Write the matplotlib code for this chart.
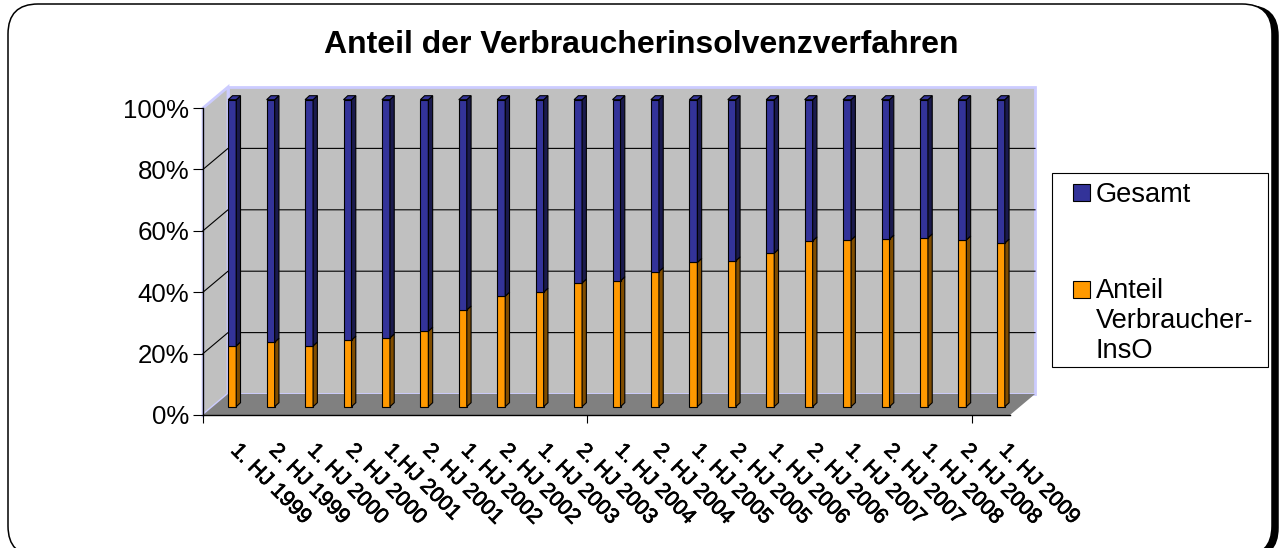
import matplotlib
matplotlib.use("Agg")
import matplotlib.pyplot as plt
import matplotlib.patheffects as pe
from matplotlib.patches import FancyBboxPatch, Rectangle, Polygon

plt.rcParams["font.family"] = ["Liberation Sans", "DejaVu Sans"]

halbjahre = [
    "1. HJ 1999", "2. HJ 1999", "1. HJ 2000", "2. HJ 2000", "1.HJ 2001", "2. HJ 2001",
    "1. HJ 2002", "2. HJ 2002", "1. HJ 2003", "2. HJ 2003", "1. HJ 2004", "2. HJ 2004",
    "1. HJ 2005", "2. HJ 2005", "1. HJ 2006", "2. HJ 2006", "1. HJ 2007", "2. HJ 2007",
    "1. HJ 2008", "2. HJ 2008", "1. HJ 2009",
]
anteil_inso = [19.8, 21.0, 19.8, 21.7, 22.4, 24.6, 31.5, 36.0, 37.3, 40.3, 41.0,
               44.0, 47.0, 47.5, 50.0, 54.0, 54.3, 54.6, 55.0, 54.3, 53.3]
gesamt = [80.2, 79.0, 80.2, 78.3, 77.6, 75.4, 68.5, 64.0, 62.7, 59.7, 59.0,
          56.0, 53.0, 52.5, 50.0, 46.0, 45.7, 45.4, 45.0, 45.7, 46.7]
prozent_ticks = [0, 20, 40, 60, 80, 100]
titel = "Anteil der Verbraucherinsolvenzverfahren"
legende = ["Gesamt", "Anteil\nVerbraucher-\nInsO"]

BLAU, BLAU_DUNKEL = "#333399", "#1A1A4D"
ORANGE, ORANGE_DUNKEL = "#FF9900", "#804D00"
WAND, BODEN, RAND = "#C0C0C0", "#808080", "#CCCCFF"

W, H = 1282, 548
fig = plt.figure(figsize=(W / 100, H / 100), dpi=100)

# Hintergrund in Pixelkoordinaten: Karte mit Schatten, Titel, Legende
bg = fig.add_axes([0, 0, 1, 1])
bg.set_xlim(0, W)
bg.set_ylim(H, 0)
bg.axis("off")

for dx, farbe, kante in [(6, "black", "black"), (0, "white", "black")]:
    bg.add_patch(FancyBboxPatch((8 + 30 + dx, 4 + 30 + dx * 0.3), 1264 - 60, 552 - 60,
                                boxstyle="round,pad=30,rounding_size=30",
                                fc=farbe, ec=kante, lw=1.1))

bg.text(641, 45, titel, ha="center", va="center", fontsize=23, fontweight="bold")

bg.add_patch(Rectangle((1052, 173), 216, 194, fc="white", ec="black", lw=0.8))
bg.add_patch(Rectangle((1073, 184), 17, 17, fc=BLAU, ec="black", lw=0.8))
bg.add_patch(Rectangle((1073, 281), 17, 17, fc=ORANGE, ec="black", lw=0.8))
bg.text(1096, 195, legende[0], va="center", fontsize=19.6)
bg.text(1096, 321, legende[1], va="center", fontsize=19.6, linespacing=1.2)

# Diagramm: Achse = vordere Ebene, Tiefe als Versatz in Dateneinheiten
ax = fig.add_axes([203 / W, 1 - 415 / H, 807 / W, 307 / H])
ax.set_xlim(0, len(halbjahre))
ax.set_ylim(0, 100)
ax.patch.set_alpha(0)

px_x = 807 / len(halbjahre)
px_y = 307 / 100
wand_dx, wand_dy = 25 / px_x, 21 / px_y
saeule_dx, saeule_dy = 10 / px_x, 8.3 / px_y
tiefe_dx, tiefe_dy = 4.3 / px_x, 4 / px_y
breite = 8 / px_x
n = len(halbjahre)

ax.add_patch(Rectangle((wand_dx, wand_dy), n, 100, fc=WAND, ec=RAND, lw=2, clip_on=False, zorder=1))
ax.add_patch(Polygon([(0, 0), (0, 100), (wand_dx, 100 + wand_dy), (wand_dx, wand_dy)],
                     fc=WAND, ec=RAND, lw=2, clip_on=False, zorder=1))
ax.add_patch(Polygon([(0, 0), (n, 0), (n + wand_dx, wand_dy), (wand_dx, wand_dy)],
                     fc=BODEN, ec="none", clip_on=False, zorder=2))

for p in prozent_ticks[1:-1]:
    ax.plot([0, wand_dx, wand_dx + n], [p, p + wand_dy, p + wand_dy],
            color="black", lw=0.8, clip_on=False, zorder=2)


def saeule(x, unten, hoehe, farbe, dunkel, z):
    links = x + saeule_dx - breite / 2
    rechts = links + breite
    y0 = unten + saeule_dy
    y1 = y0 + hoehe
    ax.bar(links, hoehe, width=breite, bottom=y0, align="edge", color=farbe,
           edgecolor="black", linewidth=0.8, clip_on=False, zorder=z)
    ax.fill([rechts, rechts + tiefe_dx, rechts + tiefe_dx, rechts],
            [y0, y0 + tiefe_dy, y1 + tiefe_dy, y1],
            fc=dunkel, ec="black", lw=0.8, clip_on=False, zorder=z)
    return links, rechts, y1


for i in range(n):
    x = i + 0.5
    saeule(x, 0, anteil_inso[i], ORANGE, ORANGE_DUNKEL, 3)
    links, rechts, oben = saeule(x, anteil_inso[i], gesamt[i], BLAU, BLAU_DUNKEL, 4)
    ax.fill([links, rechts, rechts + tiefe_dx, links + tiefe_dx],
            [oben, oben, oben + tiefe_dy, oben + tiefe_dy],
            fc=BLAU, ec="black", lw=0.8, clip_on=False, zorder=4)

for seite in ["top", "right"]:
    ax.spines[seite].set_visible(False)
for seite in ["left", "bottom"]:
    ax.spines[seite].set_linewidth(1.0)
    ax.spines[seite].set_zorder(5)

ax.set_yticks(prozent_ticks)
ax.set_yticklabels([f"{p}%" for p in prozent_ticks], fontsize=18.6)
ax.tick_params(axis="y", length=7, width=0.8, pad=3)
ax.set_xticks([0, 10, 20])
ax.set_xticklabels([])
ax.tick_params(axis="x", length=6, width=0.8)

# die Beschriftung im Original wirkt kraeftiger, daher ein feiner Strich
for i, name in enumerate(halbjahre):
    ax.annotate(name, xy=(i + 0.5, 0), xycoords="data", xytext=(19, -25),
                textcoords="offset pixels", rotation=-45, rotation_mode="anchor",
                ha="left", va="top", fontsize=15.5, annotation_clip=False,
                path_effects=[pe.withStroke(linewidth=0.5, foreground="black")])

fig.savefig("out.png", dpi=100)
